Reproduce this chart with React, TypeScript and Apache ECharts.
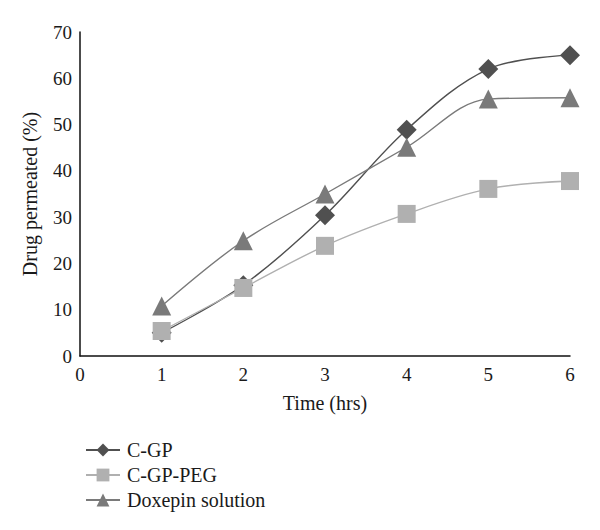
import React, { useEffect, useRef } from "react";
import * as echarts from "echarts";

const hours = [1, 2, 3, 4, 5, 6];
const cgp = [5.0, 15.3, 30.4, 48.9, 62.0, 65.0];
const cgpPeg = [5.4, 14.7, 23.8, 30.7, 36.1, 37.8];
const doxepin = [10.8, 24.9, 35.0, 45.1, 55.5, 55.8];
const seriesNames = ["C-GP", "C-GP-PEG", "Doxepin solution"];

const FONT = "'Liberation Serif', 'DejaVu Serif', serif";

export default function App() {
  const ref = useRef<HTMLDivElement>(null);
  useEffect(() => {
    if (!ref.current) return;
    const chart = echarts.init(ref.current, null, { renderer: "svg" });
    const pair = (ys: number[]) => hours.map((h, i) => [h, ys[i]]);
    const mk = (name: string, ys: number[], color: string, symbol: string, size: number) => ({
      name,
      type: "line",
      data: pair(ys),
      smooth: 0.35,
      symbol,
      symbolSize: size,
      lineStyle: { color, width: 1.4 },
      itemStyle: { color },
      z: 2,
    });
    chart.setOption({
      animation: false,
      backgroundColor: "#ffffff",
      textStyle: { fontFamily: FONT },
      grid: { left: 80, right: 30, top: 32, bottom: 174, containLabel: false },
      xAxis: {
        type: "value",
        min: 0,
        max: 6,
        interval: 1,
        name: "Time (hrs)",
        nameLocation: "middle",
        nameGap: 37,
        nameTextStyle: { fontFamily: FONT, fontSize: 20, color: "#1a1a1a" },
        axisLine: { show: true, lineStyle: { color: "#111", width: 1.5 } },
        axisTick: { show: false },
        splitLine: { show: false },
        axisLabel: { fontFamily: FONT, fontSize: 19, color: "#1a1a1a", margin: 9 },
      },
      yAxis: {
        type: "value",
        min: 0,
        max: 70,
        interval: 10,
        name: "Drug permeated (%)",
        nameLocation: "middle",
        nameGap: 40,
        nameTextStyle: { fontFamily: FONT, fontSize: 20, color: "#1a1a1a" },
        axisLine: { show: true, lineStyle: { color: "#111", width: 1.5 } },
        axisTick: { show: false },
        splitLine: { show: false },
        axisLabel: { fontFamily: FONT, fontSize: 19, color: "#1a1a1a", margin: 8 },
      },
      legend: {
        orient: "vertical",
        left: 80,
        top: 435,
        itemGap: 5,
        itemWidth: 34,
        itemHeight: 16,
        data: seriesNames,
        textStyle: { fontFamily: FONT, fontSize: 20, color: "#1a1a1a", padding: [0, 0, 0, 2] },
      },
      series: [
        mk(seriesNames[0], cgp, "#505050", "diamond", 20),
        mk(seriesNames[1], cgpPeg, "#b0b0b0", "rect", 18),
        mk(seriesNames[2], doxepin, "#7a7a7a", "triangle", 19),
      ],
    });
    return () => chart.dispose();
  }, []);
  return <div ref={ref} style={{ width: 600, height: 530, position: "absolute", left: 0, top: 0 }} />;
}
